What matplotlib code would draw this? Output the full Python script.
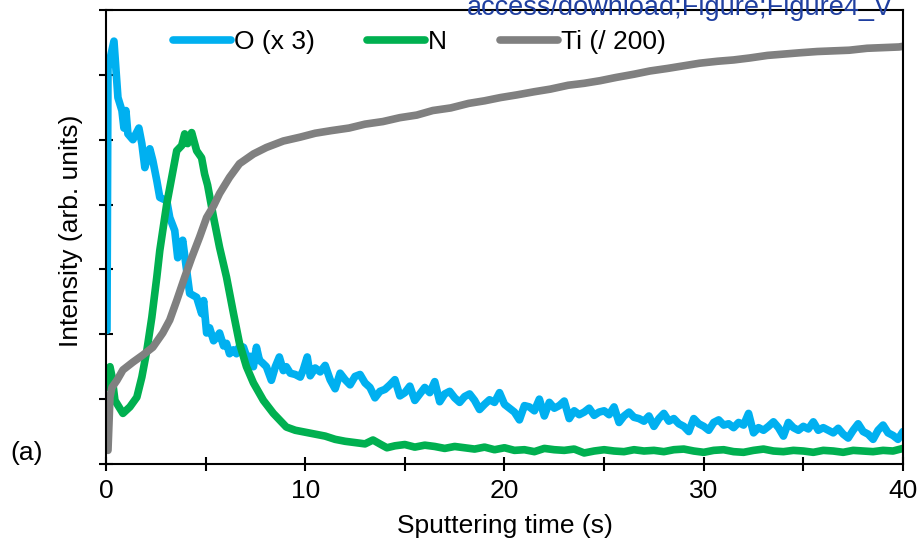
import matplotlib
matplotlib.use('Agg')
import matplotlib.pyplot as plt
from matplotlib.ticker import MultipleLocator, NullFormatter

plt.rcParams['font.family'] = ['Liberation Sans', 'DejaVu Sans']

# données (temps en s, intensité en unités arbitraires)
t_O = [0.05, 0.1, 0.4, 0.6, 0.8, 0.9, 1.0, 1.1, 1.35, 1.65, 1.8, 1.95, 2.2, 2.35,
       2.55, 2.7, 3.05, 3.2, 3.45, 3.6, 3.85, 4.05, 4.2, 4.55, 4.8, 4.9,
       5.05, 5.2, 5.4, 5.55, 5.7, 5.9, 6.05, 6.2, 6.4, 6.55, 6.7, 6.9, 7.1, 7.25,
       7.4, 7.55, 7.7, 7.85, 8.05, 8.3, 8.5, 8.7, 8.9, 9.05, 9.25, 9.5, 9.75, 9.9,
       10.1, 10.25, 10.5, 10.75, 11.0, 11.25, 11.5, 11.75, 12.0, 12.25, 12.5, 12.75,
       13.0, 13.25, 13.5, 13.75, 14.0, 14.25, 14.5, 14.75, 15.0, 15.25, 15.5, 15.75,
       16.0, 16.25, 16.5, 16.75, 17.0, 17.25, 17.5, 17.75, 18.0, 18.25, 18.5, 18.75,
       19.0, 19.25, 19.5, 19.75, 20.0, 20.25, 20.5, 20.75, 21.0, 21.25, 21.5, 21.75,
       22.0, 22.25, 22.5, 22.75, 23.0, 23.25, 23.5, 23.75, 24.0, 24.25, 24.5, 24.75,
       25.0, 25.25, 25.5, 25.75, 26.0, 26.25, 26.5, 26.75, 27.0, 27.25, 27.5, 27.75,
       28.0, 28.25, 28.5, 28.75, 29.0, 29.25, 29.5, 29.75, 30.0, 30.25, 30.5, 30.75,
       31.0, 31.25, 31.5, 31.75, 32.0, 32.25, 32.5, 32.75, 33.0, 33.25, 33.5, 33.75,
       34.0, 34.25, 34.5, 34.75, 35.0, 35.25, 35.5, 35.75, 36.0, 36.25, 36.5, 36.75,
       37.0, 37.25, 37.5, 37.75, 38.0, 38.25, 38.5, 38.75, 39.0, 39.25, 39.5, 39.75,
       40.0]
O = [2.06, 6.1, 6.52, 5.65, 5.45, 5.18, 5.45, 5.09, 5.0, 5.18, 4.94, 4.57, 4.86, 4.68,
     4.37, 4.11, 4.06, 3.8, 3.6, 3.18, 3.45, 2.98, 2.63, 2.57, 2.32, 2.52,
     2.02, 2.1, 1.9, 1.95, 2.02, 1.82, 1.86, 1.7, 1.76, 1.7, 1.82, 1.8, 1.62, 1.66,
     1.5, 1.8, 1.6, 1.56, 1.5, 1.29, 1.5, 1.65, 1.44, 1.5, 1.4, 1.38, 1.34, 1.45,
     1.65, 1.36, 1.48, 1.42, 1.52, 1.30, 1.16, 1.40, 1.30, 1.22, 1.35, 1.38,
     1.25, 1.18, 1.02, 1.12, 1.15, 1.22, 1.30, 1.05, 1.10, 1.20, 0.98, 1.08,
     1.18, 1.10, 1.27, 0.96, 1.08, 1.12, 1.02, 0.95, 1.04, 1.08, 0.98, 0.84,
     0.92, 0.99, 0.95, 1.10, 0.92, 0.86, 0.80, 0.68, 0.90, 0.88, 0.82, 1.00,
     0.74, 0.95, 0.86, 0.90, 0.97, 0.70, 0.82, 0.76, 0.80, 0.86, 0.75, 0.80,
     0.82, 0.76, 0.88, 0.64, 0.74, 0.80, 0.72, 0.70, 0.66, 0.74, 0.58, 0.70,
     0.78, 0.66, 0.70, 0.62, 0.58, 0.50, 0.70, 0.62, 0.58, 0.52, 0.64, 0.68,
     0.60, 0.62, 0.56, 0.64, 0.60, 0.78, 0.48, 0.56, 0.52, 0.58, 0.65, 0.56,
     0.43, 0.64, 0.56, 0.52, 0.58, 0.54, 0.65, 0.52, 0.56, 0.52, 0.48, 0.55,
     0.46, 0.40, 0.52, 0.62, 0.50, 0.46, 0.38, 0.52, 0.60, 0.48, 0.44, 0.38,
     0.50]

t_N = [0.05, 0.2, 0.3, 0.45, 0.85, 1.2, 1.55, 1.8, 2.05, 2.3, 2.55, 2.7, 2.85, 3.05,
       3.3, 3.55, 3.8, 3.95, 4.1, 4.3, 4.55, 4.8, 4.95, 5.1, 5.4, 5.7, 6.05, 6.4,
       6.7, 7.05, 7.4, 7.9, 8.4, 9.05, 9.5,
       10.0, 10.5, 11.0, 11.5, 12.0, 12.5, 13.0, 13.4, 13.8, 14.1, 14.5, 15.0, 15.5,
       16.0, 16.5, 17.0, 17.5, 18.0, 18.5, 19.0, 19.5, 20.0, 20.5, 21.0, 21.5, 22.0,
       22.5, 23.0, 23.5, 24.0, 24.5, 25.0, 25.5, 26.0, 26.5, 27.0, 27.5, 28.0, 28.5,
       29.0, 29.5, 30.0, 30.5, 31.0, 31.5, 32.0, 32.5, 33.0, 33.5, 34.0, 34.5, 35.0,
       35.5, 36.0, 36.5, 37.0, 37.5, 38.0, 38.5, 39.0, 39.5, 40.0]
N = [1.18, 1.5, 1.35, 0.98, 0.78, 0.88, 1.03, 1.34, 1.75, 2.26, 2.88, 3.29, 3.6, 4.01,
     4.42, 4.83, 4.91, 5.09, 4.94, 5.11, 4.83, 4.72, 4.47, 4.3, 3.8, 3.34, 2.88, 2.32,
     1.86, 1.5, 1.25, 0.98, 0.78, 0.57, 0.52,
     0.49, 0.46, 0.43, 0.38, 0.35, 0.33, 0.31, 0.37, 0.30, 0.25, 0.28, 0.30, 0.26,
     0.29, 0.27, 0.24, 0.27, 0.25, 0.23, 0.26, 0.22, 0.25, 0.21, 0.22, 0.19, 0.24,
     0.22, 0.21, 0.23, 0.17, 0.20, 0.22, 0.20, 0.19, 0.22, 0.20, 0.21, 0.19, 0.22,
     0.23, 0.20, 0.18, 0.21, 0.22, 0.19, 0.18, 0.21, 0.23, 0.20, 0.19, 0.21, 0.20,
     0.18, 0.21, 0.20, 0.18, 0.21, 0.20, 0.19, 0.21, 0.20, 0.24]

t_Ti = [0.1, 0.2, 0.3, 0.55, 0.85, 1.35, 1.85, 2.35, 2.85, 3.2, 3.55, 3.95, 4.3, 4.7,
        5.05, 5.4, 5.7, 6.2, 6.7, 7.4, 8.05, 8.9, 9.75, 10.5, 11.3, 12.2, 13.0, 13.9,
        14.75, 15.6, 16.4, 17.3, 18.2, 19.0, 19.8, 20.6, 21.5, 22.3, 23.2, 24.0, 24.8,
        25.6, 26.5, 27.3, 28.2, 29.0, 29.8, 30.7, 31.5, 32.3, 33.2, 34.0, 34.8, 35.7,
        36.5, 37.3, 38.2, 39.0, 39.8, 40.0]
Ti = [0.21, 1.03, 1.18, 1.29, 1.45, 1.57, 1.68, 1.8, 2.02, 2.22, 2.52, 2.88, 3.18, 3.5,
      3.8, 3.98, 4.17, 4.42, 4.63, 4.78, 4.88, 4.98, 5.04, 5.1, 5.14, 5.18, 5.24, 5.28,
      5.34, 5.38, 5.45, 5.49, 5.56, 5.6, 5.65, 5.69, 5.74, 5.78, 5.84, 5.87, 5.91,
      5.96, 6.01, 6.06, 6.1, 6.14, 6.18, 6.21, 6.23, 6.26, 6.3, 6.32, 6.34, 6.36,
      6.37, 6.38, 6.41, 6.42, 6.43, 6.44]

# figure
fig = plt.figure(figsize=(9.2, 5.56), dpi=100)
ax = fig.add_axes([0.1152, 0.1655, 0.8663, 0.8165])

style = dict(lw=5.5, solid_joinstyle='round', solid_capstyle='round')
ax.plot(t_O, O, color='#00B0F0', label='O (x 3)', **style)
ax.plot(t_N, N, color='#00B050', label='N', **style)
ax.plot(t_Ti, Ti, color='#808080', label='Ti (/ 200)', **style)

ax.set_xlim(0, 40)
ax.set_ylim(0, 7)
ax.xaxis.set_major_locator(MultipleLocator(10))
ax.xaxis.set_minor_locator(MultipleLocator(5))
ax.yaxis.set_major_locator(MultipleLocator(1))
ax.yaxis.set_major_formatter(NullFormatter())
ax.tick_params(axis='both', which='both', direction='inout', length=10, width=1.5,
               labelsize=19, top=False, right=False)
ax.tick_params(axis='x', pad=6)
for s in ax.spines.values():
    s.set_linewidth(1.5)

ax.set_xlabel('Sputtering time (s)', fontsize=19, labelpad=8)
ax.set_ylabel('Intensity (arb. units)', fontsize=19)
ax.yaxis.set_label_coords(-0.029, 0.513)

ax.legend(loc='center', bbox_to_anchor=(0.393, 0.93), ncol=3, frameon=False,
          fontsize=19, handlelength=2.2, handletextpad=0.1, columnspacing=2.0)

fig.text(0.011, 0.185, '(a)', fontsize=19, va='center', ha='left')
fig.text(0.9707, 0.973, 'access/download;Figure;Figure4_V', fontsize=19.5,
         color='#1F3FA0', ha='right', va='baseline')

fig.savefig('out.png', dpi=100)
